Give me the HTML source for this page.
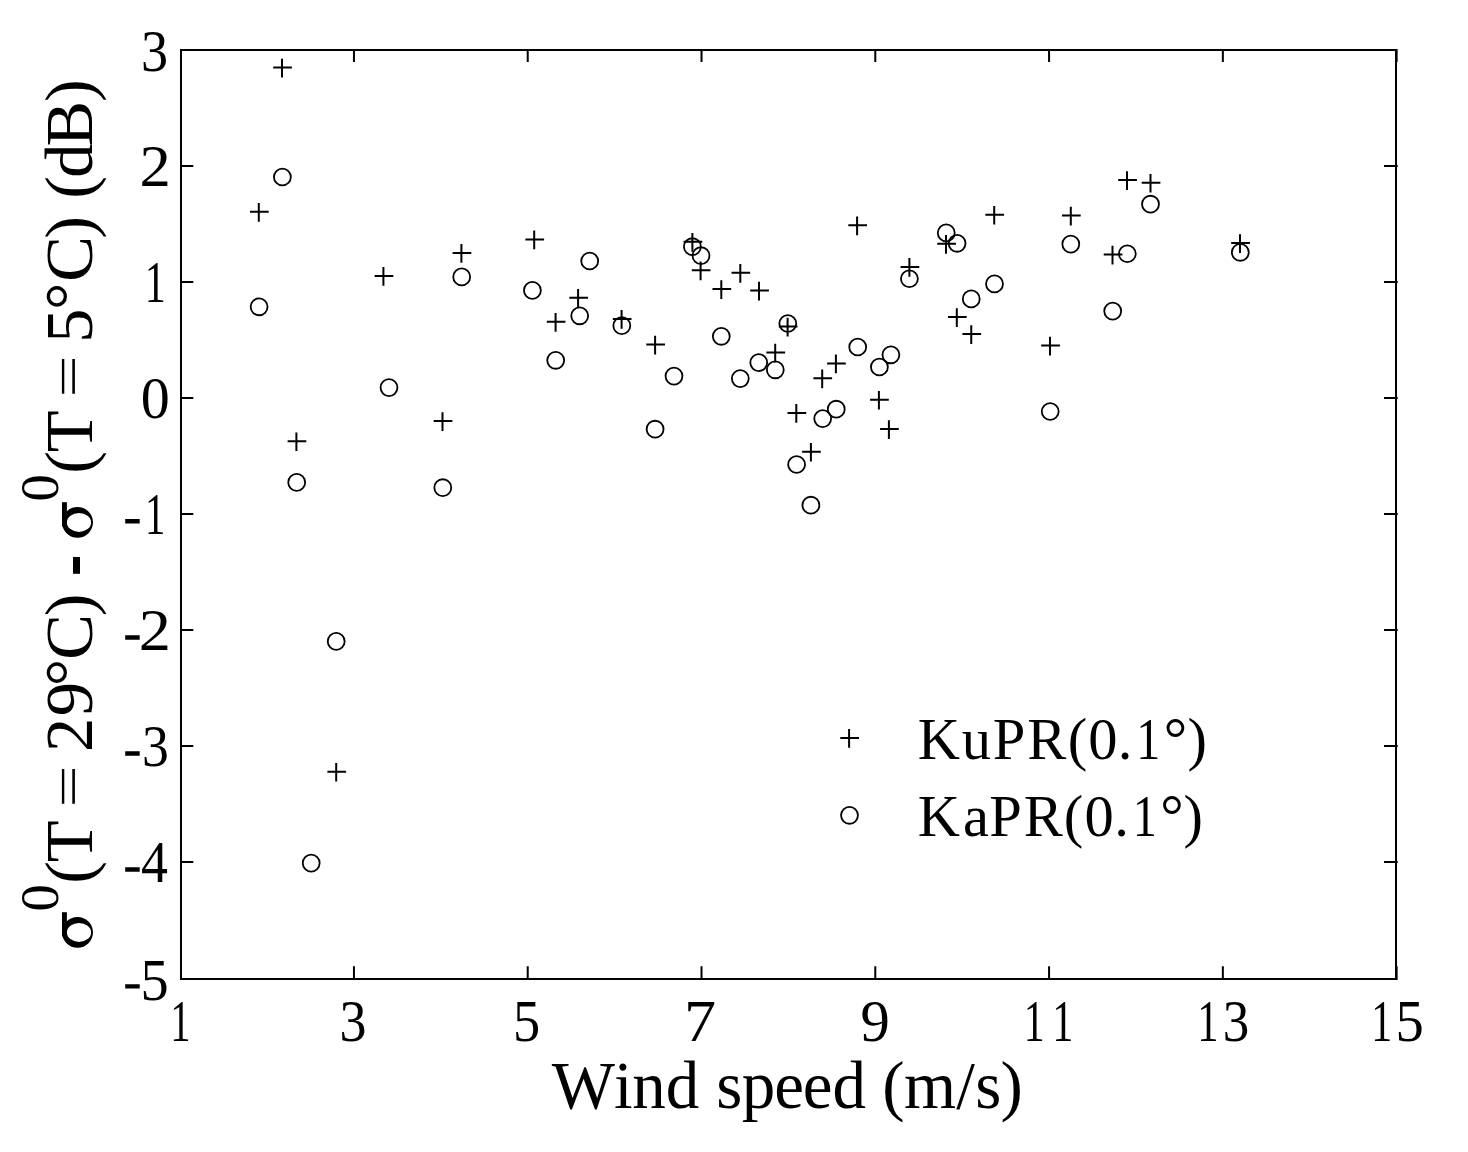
<!DOCTYPE html><html><head><meta charset="utf-8"><style>html,body{margin:0;padding:0;background:#fff;width:1468px;height:1152px;overflow:hidden}svg{display:block}text{font-family:"Liberation Serif",serif;fill:#000}</style></head><body>
<svg width="1468" height="1152" viewBox="0 0 1468 1152">
<rect width="1468" height="1152" fill="#fff"/>
<path d="M353.95 980.0V966.3M353.95 49.0V62.1M527.73 980.0V966.3M527.73 49.0V62.1M701.51 980.0V966.3M701.51 49.0V62.1M875.29 980.0V966.3M875.29 49.0V62.1M1049.07 980.0V966.3M1049.07 49.0V62.1M1222.85 980.0V966.3M1222.85 49.0V62.1M1396.63 980.0V966.3M1396.63 49.0V62.1M180 862.00H193.3M1384 862.00H1397.7M180 746.00H193.3M1384 746.00H1397.7M180 630.00H193.3M1384 630.00H1397.7M180 514.00H193.3M1384 514.00H1397.7M180 398.00H193.3M1384 398.00H1397.7M180 282.00H193.3M1384 282.00H1397.7M180 166.00H193.3M1384 166.00H1397.7" stroke="#000" stroke-width="2" fill="none"/>
<rect x="181.0" y="50.0" width="1215.0" height="929.0" fill="none" stroke="#000" stroke-width="2"/>
<path d="M273.20 67.60H291.90M282.00 58.80V77.50M250.00 211.80H268.70M258.80 203.00V221.70M287.60 441.20H306.30M296.40 432.40V451.10M327.40 771.70H346.10M336.20 762.90V781.60M374.60 275.90H393.30M383.40 267.10V285.80M433.70 421.00H452.40M442.50 412.20V430.90M452.60 252.90H471.30M461.40 244.10V262.80M525.40 239.40H544.10M534.20 230.60V249.30M546.80 321.80H565.50M555.60 313.00V331.70M569.30 297.80H588.00M578.10 289.00V307.70M612.80 318.90H631.50M621.60 310.10V328.80M646.30 344.60H665.00M655.10 335.80V354.50M683.60 241.80H702.30M692.40 233.00V251.70M691.80 270.30H710.50M700.60 261.50V280.20M712.50 289.00H731.20M721.30 280.20V298.90M731.50 272.80H750.20M740.30 264.00V282.70M750.20 290.60H768.90M759.00 281.80V300.50M766.40 352.60H785.10M775.20 343.80V362.50M778.80 326.60H797.50M787.60 317.80V336.50M787.50 412.90H806.20M796.30 404.10V422.80M802.10 451.70H820.80M810.90 442.90V461.60M813.40 378.30H832.10M822.20 369.50V388.20M827.10 363.40H845.80M835.90 354.60V373.30M848.30 225.30H867.00M857.10 216.50V235.20M870.10 399.70H888.80M878.90 390.90V409.60M880.10 429.10H898.80M888.90 420.30V439.00M900.60 266.90H919.30M909.40 258.10V276.80M937.20 243.75H955.90M946.00 234.95V253.65M948.00 317.10H966.70M956.80 308.30V327.00M962.45 334.00H981.15M971.25 325.20V343.90M985.40 214.70H1004.10M994.20 205.90V224.60M1041.20 345.50H1059.90M1050.00 336.70V355.40M1062.00 215.50H1080.70M1070.80 206.70V225.40M1103.70 254.50H1122.40M1112.50 245.70V264.40M1118.20 180.00H1136.90M1127.00 171.20V189.90M1141.70 182.70H1160.40M1150.50 173.90V192.60M1231.20 243.00H1249.90M1240.00 234.20V252.90" stroke="#000" stroke-width="2.0" fill="none"/>
<g fill="none" stroke="#000" stroke-width="1.8"><circle cx="282.4" cy="177.0" r="8.45"/><circle cx="259.1" cy="306.8" r="8.45"/><circle cx="296.7" cy="482.4" r="8.45"/><circle cx="336.2" cy="641.4" r="8.45"/><circle cx="311.2" cy="863.1" r="8.45"/><circle cx="389.0" cy="387.6" r="8.45"/><circle cx="442.8" cy="487.7" r="8.45"/><circle cx="461.7" cy="276.9" r="8.45"/><circle cx="532.4" cy="290.4" r="8.45"/><circle cx="555.7" cy="360.3" r="8.45"/><circle cx="579.7" cy="315.8" r="8.45"/><circle cx="589.7" cy="261.0" r="8.45"/><circle cx="621.8" cy="325.7" r="8.45"/><circle cx="655.1" cy="429.2" r="8.45"/><circle cx="674.0" cy="376.1" r="8.45"/><circle cx="692.4" cy="246.7" r="8.45"/><circle cx="701.0" cy="255.7" r="8.45"/><circle cx="721.3" cy="336.3" r="8.45"/><circle cx="740.3" cy="378.6" r="8.45"/><circle cx="758.75" cy="362.6" r="8.45"/><circle cx="775.3" cy="369.8" r="8.45"/><circle cx="787.8" cy="323.5" r="8.45"/><circle cx="796.6" cy="464.5" r="8.45"/><circle cx="810.9" cy="505.2" r="8.45"/><circle cx="822.7" cy="418.6" r="8.45"/><circle cx="836.25" cy="409.2" r="8.45"/><circle cx="857.7" cy="347.0" r="8.45"/><circle cx="879.4" cy="367.0" r="8.45"/><circle cx="890.9" cy="354.8" r="8.45"/><circle cx="909.4" cy="278.75" r="8.45"/><circle cx="946.25" cy="232.9" r="8.45"/><circle cx="957.1" cy="243.3" r="8.45"/><circle cx="971.25" cy="298.9" r="8.45"/><circle cx="994.5" cy="283.9" r="8.45"/><circle cx="1050.2" cy="411.5" r="8.45"/><circle cx="1070.8" cy="244.1" r="8.45"/><circle cx="1112.7" cy="311.1" r="8.45"/><circle cx="1127.3" cy="253.75" r="8.45"/><circle cx="1150.5" cy="204.2" r="8.45"/><circle cx="1240.3" cy="252.3" r="8.45"/></g>
<path d="M840.3000000000001 737.9H859.0M849.1 729.1V747.8" stroke="#000" stroke-width="2.0" fill="none"/>
<circle cx="849.5" cy="815.3" r="8.45" fill="none" stroke="#000" stroke-width="1.8"/>
<text x="917.78" y="759" font-size="58.5">K</text>
<text x="961.69" y="759" font-size="58.5">u</text>
<text x="992.86" y="759" font-size="58.5">P</text>
<text x="1027.34" y="759" font-size="58.5">R</text>
<text x="1067.82" y="759" font-size="58.5">(</text>
<text x="1088.17" y="759" font-size="58.5">0</text>
<text x="1117.69" y="759" font-size="58.5">.</text>
<text transform="translate(1148.85 0) scale(0.820588688549847 1) translate(-1148.85 0)" x="1133.41" y="759" font-size="58.5">1</text>
<text x="1163.63" y="759" font-size="58.5">°</text>
<text x="1187.40" y="759" font-size="58.5">)</text>
<text x="917.78" y="836" font-size="58.5">K</text>
<text x="962.89" y="836" font-size="58.5">a</text>
<text x="989.31" y="836" font-size="58.5">P</text>
<text x="1023.74" y="836" font-size="58.5">R</text>
<text x="1063.87" y="836" font-size="58.5">(</text>
<text x="1084.53" y="836" font-size="58.5">0</text>
<text x="1114.19" y="836" font-size="58.5">.</text>
<text transform="translate(1145.50 0) scale(0.8254442429199711 1) translate(-1145.50 0)" x="1130.06" y="836" font-size="58.5">1</text>
<text x="1160.23" y="836" font-size="58.5">°</text>
<text x="1183.55" y="836" font-size="58.5">)</text>
<text x="551.86 613.93 632.29 665.80 716.15 741.82 774.28 802.83 832.40 882.25 903.91 956.29 975.25 1000.39" y="1108.3" font-size="67">Windspeed(m/s)</text>
<text transform="translate(180.95 0) scale(0.6884600014104696 1) translate(-180.95 0)" x="165.38" y="1041.2" font-size="59">1</text>
<text transform="translate(353.35 0) scale(0.9149817686420648 1) translate(-353.35 0)" x="338.34" y="1041.2" font-size="59">3</text>
<text transform="translate(527.05 0) scale(0.92144221879815 1) translate(-527.05 0)" x="511.74" y="1041.2" font-size="59">5</text>
<text transform="translate(701.20 0) scale(1.0873596079232184 1) translate(-701.20 0)" x="685.36" y="1041.2" font-size="59">7</text>
<text transform="translate(875.00 0) scale(0.9929022999650933 1) translate(-875.00 0)" x="860.51" y="1041.2" font-size="59">9</text>
<text transform="translate(1034.65 0) scale(0.7077176238275487 1) translate(-1034.65 0)" x="1019.08" y="1041.2" font-size="59">1</text>
<text transform="translate(1063.45 0) scale(0.7173464350360889 1) translate(-1063.45 0)" x="1047.88" y="1041.2" font-size="59">1</text>
<text transform="translate(1208.60 0) scale(0.7221608406403536 1) translate(-1208.60 0)" x="1193.03" y="1041.2" font-size="59">1</text>
<text transform="translate(1236.15 0) scale(0.8985695396081204 1) translate(-1236.15 0)" x="1221.14" y="1041.2" font-size="59">3</text>
<text transform="translate(1382.40 0) scale(0.7125320294318134 1) translate(-1382.40 0)" x="1366.83" y="1041.2" font-size="59">1</text>
<text transform="translate(1410.30 0) scale(0.9593097072419087 1) translate(-1410.30 0)" x="1394.99" y="1041.2" font-size="59">5</text>
<text transform="translate(155.25 0) scale(0.9551022085259369 1) translate(-155.25 0)" x="139.94" y="999.53" font-size="59">5</text>
<text transform="translate(154.60 0) scale(0.911551061102407 1) translate(-154.60 0)" x="139.73" y="881.93" font-size="59">4</text>
<text transform="translate(155.60 0) scale(0.9108787113835793 1) translate(-155.60 0)" x="140.59" y="766.26" font-size="59">3</text>
<text transform="translate(154.50 0) scale(1.0908235099816268 1) translate(-154.50 0)" x="140.08" y="650.26" font-size="59">2</text>
<text transform="translate(155.75 0) scale(0.6884600014104709 1) translate(-155.75 0)" x="140.18" y="533.95" font-size="59">1</text>
<text transform="translate(155.30 0) scale(0.9837694290400685 1) translate(-155.30 0)" x="140.55" y="418.24" font-size="59">0</text>
<text transform="translate(155.80 0) scale(0.7125320294318147 1) translate(-155.80 0)" x="140.23" y="302.05" font-size="59">1</text>
<text transform="translate(154.75 0) scale(1.0612275232766994 1) translate(-154.75 0)" x="140.33" y="186.4" font-size="59">2</text>
<text transform="translate(154.80 0) scale(0.9190848259005492 1) translate(-154.80 0)" x="139.79" y="70.56" font-size="59">3</text>
<path d="M125.2 984.20h14.5v4.4h-14.5zM125.2 867.30h14.5v4.4h-14.5zM125.2 751.30h14.5v4.4h-14.5zM125.2 635.30h14.5v4.4h-14.5zM125.2 519.10h14.5v4.4h-14.5z" fill="#000"/>
<text transform="rotate(-90)" x="-883.69 -862.34 -751.97 -716.20 -686.29 -659.73 -616.19 -473.69 -452.34 -342.70 -310.04 -281.68 -238.69 -198.79 -177.77 -146.43 -101.99" y="92.2" font-size="68.4">(T29°C)(T5°C)(dB)</text>
<text transform="rotate(-90)" x="-911.42 -501.43" y="57.5" font-size="54.7">00</text>
<path d="M62 912.2H66.9V936.5H62Z" fill="#000"/><path fill-rule="evenodd" fill="#000" d="M77.5 916.9A15.5 15.4 0 1 0 77.5 947.7A15.5 15.4 0 1 0 77.5 916.9ZM79 922.9A12.1 9.5 0 1 1 79 941.9A12.1 9.5 0 1 1 79 922.9Z"/>
<path d="M62 502.20000000000005H66.9V526.5H62Z" fill="#000"/><path fill-rule="evenodd" fill="#000" d="M77.5 506.9A15.5 15.4 0 1 0 77.5 537.7A15.5 15.4 0 1 0 77.5 506.9ZM79 512.9A12.1 9.5 0 1 1 79 531.9A12.1 9.5 0 1 1 79 512.9Z"/>
<rect x="73" y="557" width="7" height="16.8" fill="#000"/>
<path d="M61.9 358.9h2.4v34.9h-2.4zM72.3 358.9h2.6v34.9h-2.6zM61.9 768.9h2.4v34.9h-2.4zM72.3 768.9h2.6v34.9h-2.6z" fill="#000"/>
</svg></body></html>
